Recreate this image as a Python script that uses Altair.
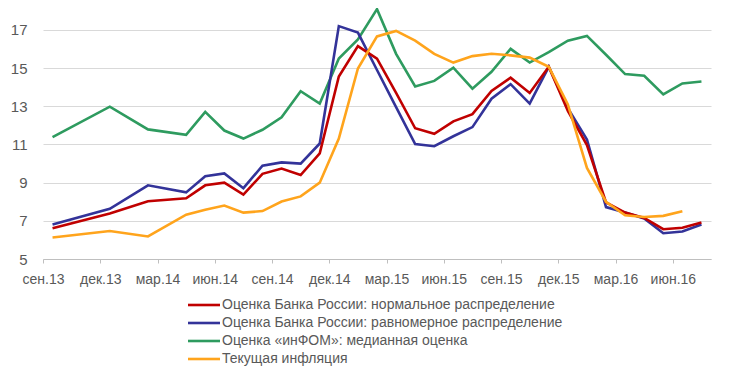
import altair as alt
import pandas as pd

months = ["сен.13", "окт.13", "ноя.13", "дек.13", "янв.14", "фев.14", "мар.14", "апр.14",
          "май.14", "июн.14", "июл.14", "авг.14", "сен.14", "окт.14", "ноя.14", "дек.14",
          "янв.15", "фев.15", "мар.15", "апр.15", "май.15", "июн.15", "июл.15", "авг.15",
          "сен.15", "окт.15", "ноя.15", "дек.15", "янв.16", "фев.16", "мар.16", "апр.16",
          "май.16", "июн.16", "июл.16"]

red = [6.61, None, None, 7.38, None, 8.03, None, 8.18, 8.86, 9.0, 8.37, 9.46, 9.74, 9.4,
       10.54, 14.56, 16.15, 15.5, 13.7, 11.85, 11.56, 12.21, 12.59, 13.8, 14.5, 13.7,
       15.07, 12.76, 10.97, 7.97, 7.43, 7.15, 6.56, 6.64, 6.91]
blue = [6.81, None, None, 7.63, None, 8.86, None, 8.49, 9.34, 9.48, 8.71, 9.89, 10.06, 10.0,
        11.05, 17.2, 16.86, 14.9, 12.96, 11.02, 10.91, 11.43, 11.91, 13.4, 14.16, 13.14,
        15.07, 12.9, 11.26, 7.72, 7.43, 7.12, 6.35, 6.44, 6.81]
green = [11.39, None, None, 12.98, None, 11.79, None, 11.51, 12.71, 11.73, 11.31, 11.77,
         12.42, 13.79, 13.14, 15.5, 16.5, 18.09, 15.75, 14.04, 14.33, 15.02, 13.92, 14.81,
         16.01, 15.29, 15.84, 16.44, 16.69, 15.7, 14.69, 14.6, 13.62, 14.2, 14.3]
orange = [6.13, None, None, 6.47, None, 6.18, None, 7.32, 7.58, 7.8, 7.43, 7.51, 8.01, 8.28,
          9.0, 11.31, 14.98, 16.66, 16.95, 16.44, 15.75, 15.29, 15.63, 15.75, 15.67, 15.55,
          15.07, 13.1, 9.77, 8.0, 7.29, 7.2, 7.26, 7.5, None]

series_names = ["Оценка Банка России: нормальное распределение",
                "Оценка Банка России: равномерное распределение",
                "Оценка «инФОМ»: медианная оценка",
                "Текущая инфляция"]
colors = ["#C00000", "#333399", "#2E9B5F", "#FFA41C"]
y_ticks = [5, 7, 9, 11, 13, 15, 17]

rows = []
for order, (name, vals) in enumerate(zip(series_names, [red, blue, green, orange])):
    for m, v in zip(months, vals):
        if v is not None:
            rows.append({"month": m, "value": v, "series": name, "order": order})
df = pd.DataFrame(rows)
leg_df = pd.DataFrame({"series": series_names})

W, H = 668, 251
step = W / len(months)
FONT = "Liberation Sans"
GREY = "#595959"

color_scale = alt.Scale(domain=series_names, range=colors)

x_enc = alt.X("month:O",
              scale=alt.Scale(domain=months, type="point", padding=0.5),
              axis=alt.Axis(values=months[::3], title=None, labelAngle=0,
                            tickOffset=-step / 2, tickSize=4, tickColor="#BFBFBF",
                            domainColor="#BFBFBF", labelPadding=9, labelFontSize=14,
                            labelColor=GREY, labelFont=FONT, grid=False))
y_enc = alt.Y("value:Q",
              scale=alt.Scale(domain=[5, 18.15], nice=False, zero=False),
              axis=alt.Axis(values=y_ticks, title=None, ticks=False, domain=False,
                            labelPadding=16, labelFontSize=15, labelColor=GREY,
                            labelFont=FONT, gridColor="#D9D9D9", gridWidth=1))

base = alt.Chart(df).encode(
    x=x_enc, y=y_enc,
    color=alt.Color("series:N", scale=color_scale, legend=None),
)

order_draw = [series_names[2], series_names[1], series_names[0], series_names[3]]
lines = alt.layer(*[
    base.transform_filter(alt.datum.series == s).mark_line(strokeWidth=2.6, clip=False)
    for s in order_draw
])

leg_y = alt.Y("series:N", sort=series_names,
              scale=alt.Scale(domain=series_names, type="point", padding=0,
                              range=[297, 351]),
              axis=None)
leg_base = alt.Chart(leg_df).encode(y=leg_y)
leg_rule = leg_base.mark_rule(strokeWidth=2.6).encode(
    x=alt.value(145), x2=alt.value(177),
    color=alt.Color("series:N", scale=color_scale, legend=None))
leg_text = leg_base.mark_text(align="left", baseline="middle", fontSize=14,
                              font=FONT, color=GREY).encode(
    x=alt.value(179), text="series:N")
legend = alt.layer(leg_rule, leg_text)

chart = alt.layer(lines, legend).resolve_scale(y="independent").properties(
    width=W, height=H,
    autosize=alt.AutoSizeParams(type="none"),
    padding={"left": 35, "top": 0, "right": 20, "bottom": 112},
    background="white",
).configure_view(stroke=None)

chart.save("out.html", embed_options={"renderer": "svg", "actions": False})
